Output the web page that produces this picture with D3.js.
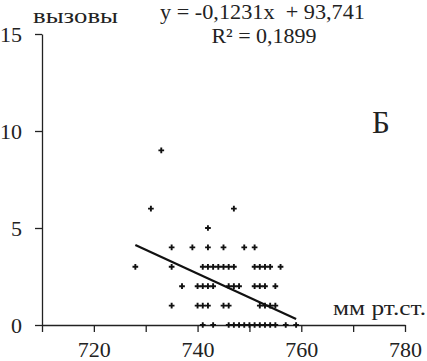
<!DOCTYPE html>
<html>
<head>
<meta charset="utf-8">
<script src="https://cdn.jsdelivr.net/npm/d3@7"></script>
<style>
  body { margin: 0; background: #fff; }
</style>
</head>
<body>
<svg id="vis"></svg>
<script>
// pressure (mm Hg) and number of calls
const pressure = [
  733,
  731, 747,
  742,
  735, 739, 742, 745, 749, 751,
  728, 735, 741, 742, 743, 744, 745, 746, 747, 751, 752, 753, 754, 756,
  737, 740, 741, 742, 743, 746, 747, 748, 751, 752, 753, 755,
  735, 740, 741, 742, 745, 746, 752, 753, 754, 755,
  741, 743, 746, 747, 748, 749, 750, 751, 752, 753, 754, 755, 757, 759
];
const calls = [
  9,
  6, 6,
  5,
  4, 4, 4, 4, 4, 4,
  3, 3, 3, 3, 3, 3, 3, 3, 3, 3, 3, 3, 3, 3,
  2, 2, 2, 2, 2, 2, 2, 2, 2, 2, 2, 2,
  1, 1, 1, 1, 1, 1, 1, 1, 1, 1,
  0, 0, 0, 0, 0, 0, 0, 0, 0, 0, 0, 0, 0, 0
];
const xTicks = [710, 720, 730, 740, 750, 760, 770, 780];
const xLabels = [720, 740, 760, 780];
const yTicks = [0, 5, 10, 15];
const slope = -0.1231, intercept = 93.741;
const trendRange = [728, 759];

const font = "'Liberation Serif', 'Times New Roman', Times, serif";
const width = 427, height = 361;
const svg = d3.select("#vis").attr("width", width).attr("height", height)
  .attr("font-family", font);

const x = d3.scaleLinear().domain([710, 780]).range([42, 405]);
const y = d3.scaleLinear().domain([0, 15]).range([325, 34]);

// x axis
const xAxis = d3.axisBottom(x)
  .tickValues(xTicks)
  .tickSizeInner(7)
  .tickSizeOuter(0)
  .tickFormat(d => xLabels.includes(d) ? d : "");
const gx = svg.append("g")
  .attr("transform", `translate(0,${y(0)})`)
  .call(xAxis)
  .attr("font-family", font)
  .attr("font-size", 22);
gx.select(".domain").attr("stroke", "#222").attr("stroke-width", 1.3);
gx.selectAll(".tick line").attr("stroke", "#222").attr("stroke-width", 1.3);
gx.selectAll(".tick text")
  .attr("y", 16).attr("dy", "0.71em")
  .attr("fill", "#222");

// y axis
const yAxis = d3.axisLeft(y)
  .tickValues(yTicks)
  .tickSizeInner(7)
  .tickSizeOuter(0);
const gy = svg.append("g")
  .attr("transform", `translate(${x(710)},0)`)
  .call(yAxis)
  .attr("font-family", font)
  .attr("font-size", 22);
gy.select(".domain").attr("stroke", "#222").attr("stroke-width", 1.3);
gy.selectAll(".tick line").attr("stroke", "#222").attr("stroke-width", 1.3);
gy.selectAll(".tick text")
  .attr("x", -20)
  .attr("fill", "#222");

// points
const sym = d3.symbol().type(d3.symbolCross).size(18);
svg.append("g")
  .selectAll("path")
  .data(pressure)
  .join("path")
    .attr("d", sym)
    .attr("transform", (d, i) => `translate(${x(d)},${y(calls[i])})`)
    .attr("fill", "#111");

// trend line
const line = d3.line()
  .x(d => x(d))
  .y(d => y(slope * d + intercept));
svg.append("path")
  .datum(trendRange)
  .attr("d", line)
  .attr("fill", "none")
  .attr("stroke", "#111")
  .attr("stroke-width", 2.2);

// labels
const label = (tx, ty, size, txt, anchor, len) => {
  const t = svg.append("text")
    .attr("x", tx).attr("y", ty)
    .attr("font-size", size)
    .attr("text-anchor", anchor || "start")
    .attr("fill", "#222")
    .style("white-space", "pre")
    .text(txt);
  if (len) t.attr("textLength", len).attr("lengthAdjust", "spacingAndGlyphs");
  return t;
};
label(33, 23, 22, "вызовы", "start", 85);
label(160, 19, 21, "y = -0,1231x  + 93,741", "start", 205);
label(264, 43, 22, "R² = 0,1899", "middle");
label(372, 133, 31, "Б");
label(333, 315, 22, "мм рт.ст.", "start", 93);
</script>
</body>
</html>
